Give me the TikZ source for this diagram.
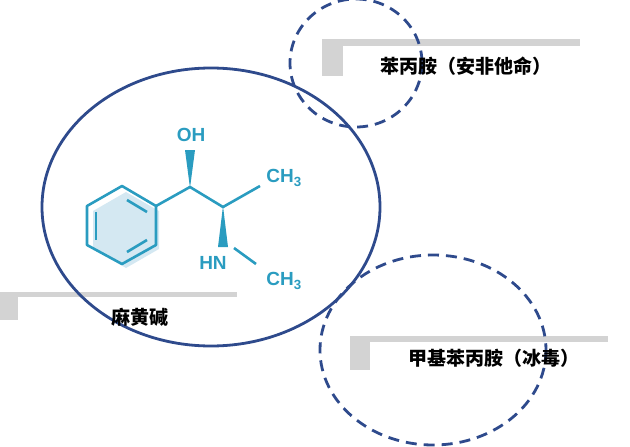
\documentclass[tikz,border=0pt]{standalone}
\usepackage{fontspec}
\setmainfont{Liberation Sans}
\newfontfamily\cjk{Noto Sans CJK SC}
\begin{document}
\begin{tikzpicture}[x=1pt,y=-1pt,
  ring/.style={draw=dblue,line width=2.8pt},
  dring/.style={draw=dblue,line width=2.8pt,dash pattern=on 11pt off 7pt},
  bar/.style={fill=lgray,draw=none},
  lbl/.style={font=\cjk\bfseries\fontsize{19}{22}\selectfont,inner sep=0pt},
  bond/.style={draw=teal1,line width=2.6pt},
  atom/.style={text=teal1,font=\bfseries\fontsize{19}{22}\selectfont,inner sep=0pt}]
\definecolor{dblue}{HTML}{2E4A8C}
\definecolor{lgray}{HTML}{D3D3D3}
\definecolor{teal1}{HTML}{2A9CC0}
\definecolor{lteal}{HTML}{D4E8F2}
\useasboundingbox (0,0) rectangle (630,447);
% label bars
\fill[bar] (322,39) rectangle (580,46); \fill[bar] (322,39) rectangle (343,76);
\fill[bar] (0,292) rectangle (237,297); \fill[bar] (0,292) rectangle (18,320);
\fill[bar] (350,336) rectangle (608,342); \fill[bar] (350,336) rectangle (370,370);
% circles
\draw[ring] (211,207) ellipse [x radius=169,y radius=139];
\draw[dring] (356,63) ellipse [x radius=66,y radius=64];
\draw[dring] (433,350) ellipse [x radius=113,y radius=95];
% labels
\node[lbl] (t1) at (466,66) {苯丙胺（安非他命）};
\node[lbl] (t2) at (140,317) {麻黄碱};
\node[lbl] (t3) at (494,358) {甲基苯丙胺（冰毒）};
% molecule
\fill[lteal] (126,192) -- (159,211) -- (159,249) -- (126,268) -- (93,249) -- (93,211) -- cycle;
\coordinate (b1) at (122,186); \coordinate (b2) at (156,206);
\coordinate (b3) at (156,245); \coordinate (b4) at (122,264);
\coordinate (b5) at (87,245); \coordinate (b6) at (87,206);
\draw[bond,line join=round] (b1)--(b2)--(b3)--(b4)--(b5)--(b6)--cycle;
\draw[bond] (147,212) -- (127,200);
\draw[bond] (147,240) -- (127,252);
\draw[bond] (96,212) -- (96,240);
\coordinate (c1) at (190,187); \coordinate (c2) at (223,207);
\coordinate (c3) at (260,186); \coordinate (nb) at (234,248); \coordinate (me) at (256,264);
\draw[bond,line join=round] (b2)--(c1)--(c2)--(c3);
\fill[teal1] (190,188) -- (185,150) -- (195,150) -- cycle;
\fill[teal1] (223,206) -- (218,247) -- (228,247) -- cycle;
\draw[bond] (nb)--(me);
\node[atom] (oh) at (191,135) {OH};
\node[atom] (m1) at (284,178) {CH\textsubscript{3}};
\node[atom] (hn) at (213,263) {HN};
\node[atom] (m2) at (284,281) {CH\textsubscript{3}};
\end{tikzpicture}
\end{document}
